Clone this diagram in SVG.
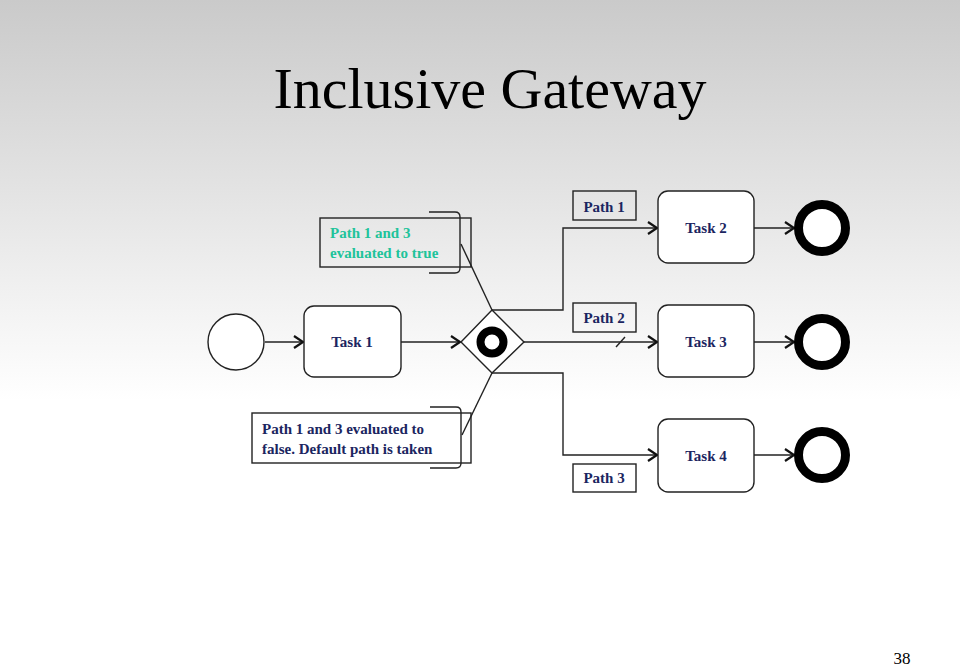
<svg xmlns="http://www.w3.org/2000/svg" width="960" height="668" viewBox="0 0 960 668">
<defs>
<linearGradient id="bg" x1="0" y1="0" x2="0" y2="1">
<stop offset="0" stop-color="#cacaca"/>
<stop offset="0.6" stop-color="#ffffff"/>
<stop offset="1" stop-color="#ffffff"/>
</linearGradient>
<marker id="arr" markerWidth="12" markerHeight="14" refX="10" refY="7" orient="auto" markerUnits="userSpaceOnUse">
<path d="M1,1 L10,7 L1,13" fill="none" stroke="#111" stroke-width="2.2"/>
</marker>
</defs>
<style>
.ln{fill:none;stroke:#222;stroke-width:1.4}
.task{fill:#fff;stroke:#222;stroke-width:1.4}
.lbl{fill:none;stroke:#222;stroke-width:1.4}
.tt{font-family:"Liberation Serif",serif;font-weight:bold;font-size:15px;fill:#1b2560;text-anchor:middle}
.an{font-family:"Liberation Serif",serif;font-weight:bold;font-size:15px}
.end{fill:#fff;stroke:#000;stroke-width:9}
</style>
<rect x="0" y="0" width="960" height="668" fill="url(#bg)"/>
<text x="490" y="108" font-family="'Liberation Serif',serif" font-size="58" fill="#000" text-anchor="middle">Inclusive Gateway</text>

<g id="connectors">
<line class="ln" x1="265" y1="342" x2="303" y2="342" marker-end="url(#arr)"/>
<line class="ln" x1="401" y1="342" x2="460" y2="342" marker-end="url(#arr)"/>
<polyline class="ln" points="492,310 563,310 563,228 657,228" marker-end="url(#arr)"/>
<line class="ln" x1="524" y1="342" x2="657" y2="342" marker-end="url(#arr)"/>
<line class="ln" x1="616" y1="347" x2="625" y2="337"/>
<polyline class="ln" points="492,373 563,373 563,455 657,455" marker-end="url(#arr)"/>
<line class="ln" x1="754" y1="228" x2="794" y2="228" marker-end="url(#arr)"/>
<line class="ln" x1="754" y1="342" x2="794" y2="342" marker-end="url(#arr)"/>
<line class="ln" x1="754" y1="455" x2="794" y2="455" marker-end="url(#arr)"/>
<line class="ln" x1="492" y1="310" x2="461" y2="244"/>
<line class="ln" x1="492" y1="373" x2="462" y2="435"/>
</g>

<g id="start">
<circle cx="236" cy="342" r="28" fill="#fff" stroke="#222" stroke-width="1.4"/>
</g>
<g id="task1">
<rect class="task" x="304" y="306" width="97" height="71" rx="10"/>
<text class="tt" x="352" y="347">Task 1</text>
</g>
<g id="gateway">
<polygon points="461,342 492,310 524,342 492,373" fill="#fff" stroke="#222" stroke-width="1.4"/>
<circle cx="492" cy="342" r="11.5" fill="none" stroke="#000" stroke-width="8"/>
</g>

<g id="note-true">
<rect class="lbl" x="320" y="218" width="151" height="49"/>
<path class="ln" d="M429,212 L455,212 Q460,212 460,217 L460,268 Q460,273 455,273 L429,273"/>
<text class="an" x="330" y="238" fill="#20c39a">Path 1 and 3</text>
<text class="an" x="330" y="258" fill="#20c39a">evaluated to true</text>
</g>
<g id="note-false">
<rect class="lbl" x="252" y="413" width="219" height="50"/>
<path class="ln" d="M430,407 L456,407 Q461,407 461,412 L461,463 Q461,468 456,468 L430,468"/>
<text class="an" x="262" y="434" fill="#1b2560">Path 1 and 3 evaluated to</text>
<text class="an" x="262" y="454" fill="#1b2560">false. Default path is taken</text>
</g>

<g id="path1-label">
<rect class="lbl" x="573" y="191" width="63" height="29"/>
<text class="tt" x="604" y="212">Path 1</text>
</g>
<g id="path2-label">
<rect class="lbl" x="573" y="303" width="63" height="29"/>
<text class="tt" x="604" y="323">Path 2</text>
</g>
<g id="path3-label">
<rect class="lbl" x="573" y="464" width="63" height="28"/>
<text class="tt" x="604" y="483">Path 3</text>
</g>

<g id="task2">
<rect class="task" x="658" y="191" width="96" height="72" rx="10"/>
<text class="tt" x="706" y="233">Task 2</text>
</g>
<g id="task3">
<rect class="task" x="658" y="305" width="96" height="72" rx="10"/>
<text class="tt" x="706" y="347">Task 3</text>
</g>
<g id="task4">
<rect class="task" x="658" y="419" width="96" height="73" rx="10"/>
<text class="tt" x="706" y="461">Task 4</text>
</g>

<g id="end1"><circle class="end" cx="822" cy="228" r="23.5"/></g>
<g id="end2"><circle class="end" cx="822" cy="342" r="23.5"/></g>
<g id="end3"><circle class="end" cx="822" cy="455" r="23.5"/></g>

<text x="902" y="664" font-family="'Liberation Serif',serif" font-size="17" fill="#000" text-anchor="middle">38</text>
</svg>
